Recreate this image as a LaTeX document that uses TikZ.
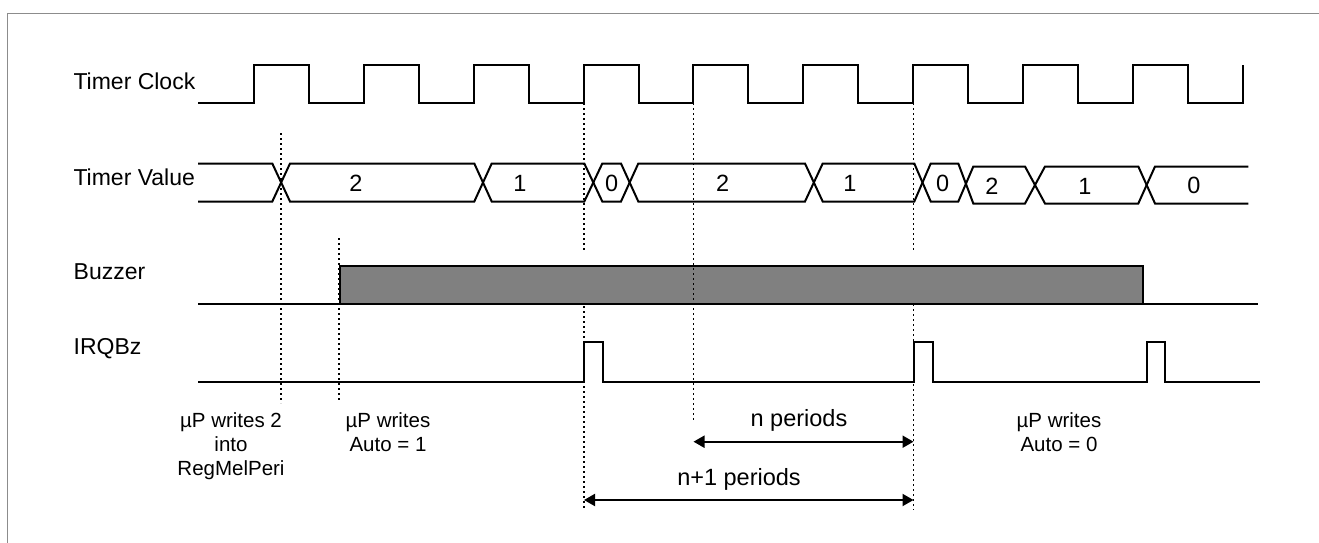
\documentclass[tikz,border=0pt]{standalone}
\usepackage{fontspec}
\setmainfont{Liberation Sans}
\usetikzlibrary{arrows.meta}
\definecolor{buzz}{RGB}{128,128,128}
\definecolor{framec}{RGB}{140,140,140}
\begin{document}
\begin{tikzpicture}[x=1pt,y=-1pt,
  sig/.style={line width=2pt, line join=miter, black},
  dots/.style={line width=1.8pt, dash pattern=on 2.4pt off 2.6pt, black},
  lbl/.style={font=\fontsize{23}{27}\selectfont, inner sep=0pt, anchor=base west},
  note/.style={font=\fontsize{20.5}{24}\selectfont, inner sep=0pt, anchor=base},
  val/.style={font=\fontsize{23.5}{27}\selectfont, inner sep=0pt, anchor=base},
  dim/.style={line width=2pt, {Triangle[length=11pt,width=12pt]}-{Triangle[length=11pt,width=12pt]}}
]
\useasboundingbox (0,0) rectangle (1319,543);
% frame
\draw[framec, line width=1pt] (7,543) -- (7,13.5) -- (1319,13.5);

% signal labels
\node[lbl] (lclk) at (73.3,89.3) {Timer Clock};
\node[lbl] (lval) at (73.3,185) {Timer Value};
\node[lbl] (lbuz) at (73.5,279.5) {Buzzer};
\node[lbl] (lirq) at (73.5,354) {IRQBz};

% timer clock
\draw[sig] (198,103)
  foreach \k in {0,...,8} {
    -- ({254+109.85*\k},103) -- ({254+109.85*\k},65)
    -- ({309+109.85*\k},65) -- ({309+109.85*\k},103)
  } -- (1243,103) -- (1243,65);

% timer value bus
\def\T{163.5}\def\B{201.5}\def\TT{166.5}\def\BB{203.5}
\draw[sig] (198,\T) -- (272.3,\T) -- (290,\B) -- (474.3,\B) -- (491.7,\T)
  -- (584.3,\T) -- (602.3,\B) -- (621,\B) -- (638.3,\T) -- (805,\T)
  -- (822.7,\B) -- (914.3,\B) -- (930.7,\T) -- (958.3,\T) -- (973.3,\BB)
  -- (1025,\BB) -- (1045,\TT) -- (1138.3,\TT) -- (1155,\BB) -- (1248.3,\BB);
\draw[sig] (198,\B) -- (272.3,\B) -- (290,\T) -- (474.3,\T) -- (491.7,\B)
  -- (584.3,\B) -- (602.3,\T) -- (621,\T) -- (638.3,\B) -- (805,\B)
  -- (822.7,\T) -- (914.3,\T) -- (930.7,\B) -- (958.3,\B) -- (973.3,\TT)
  -- (1025,\TT) -- (1045,\BB) -- (1138.3,\BB) -- (1155,\TT) -- (1248.3,\TT);

\node[val] (v1) at (356,191.5) {2};
\node[val] (v2) at (520,191.5) {1};
\node[val] (v3) at (611.7,191) {0};
\node[val] (v4) at (722.7,191.5) {2};
\node[val] (v5) at (850,191.5) {1};
\node[val] (v6) at (942.7,191) {0};
\node[val] (v7) at (992,194) {2};
\node[val] (v8) at (1085,194.5) {1};
\node[val] (v9) at (1194,193) {0};

% buzzer
\filldraw[sig, fill=buzz] (339.5,304) rectangle (1143,266);
\draw[sig] (198,304) -- (1258,304);

% IRQBz
\draw[sig] (198,381.5) -- (584,381.5) -- (584,341.7) -- (603,341.7) -- (603,381.5)
  -- (913.5,381.5) -- (913.5,341.7) -- (933,341.7) -- (933,381.5)
  -- (1146.7,381.5) -- (1146.7,341.7) -- (1165.3,341.7) -- (1165.3,381.5) -- (1260,381.5);

% dotted guide lines
\coordinate (d1t) at (281,133);   \coordinate (d1b) at (281,403);
\coordinate (d2t) at (339,238);   \coordinate (d2b) at (339,402);
\coordinate (d3t) at (584,103);   \coordinate (d3m) at (584,252);
\coordinate (d3n) at (584,306);   \coordinate (d3b) at (584,508);
\coordinate (d4t) at (913.5,103); \coordinate (d4m) at (913.5,252);
\coordinate (d4n) at (913.5,304); \coordinate (d4b) at (913.5,510);
\coordinate (d5t) at (693.5,103); \coordinate (d5b) at (693.5,422);
\draw[dots] (d1t) -- (d1b);
\draw[dots] (d2t) -- (d2b);
\draw[dots] (d3t) -- (d3m);
\draw[dots] (d3n) -- (d3b);
\draw[dots] (d4t) -- (d4m);
\draw[dots] (d4n) -- (d4b);
\draw[dots] (d5t) -- (d5b);

% notes
\node[note] (w1a) at (231,427.3) {µP writes 2};
\node[note] (w1b) at (231,451) {into};
\node[note] (w1c) at (231,475) {RegMelPeri};
\node[note] (w2a) at (388,427.3) {µP writes};
\node[note] (w2b) at (388,451) {Auto = 1};
\node[note] (w3a) at (1059,427.3) {µP writes};
\node[note] (w3b) at (1059,451) {Auto = 0};

% period arrows
\coordinate (a1l) at (693.5,441.7); \coordinate (a1r) at (913.5,441.7);
\coordinate (a2l) at (584,500);     \coordinate (a2r) at (913.5,500);
\draw[dim] (a1l) -- (a1r);
\draw[dim] (a2l) -- (a2r);
\node[val] (np) at (799,426) {n periods};
\node[val] (n1p) at (739,485) {n+1 periods};
\end{tikzpicture}
\end{document}
